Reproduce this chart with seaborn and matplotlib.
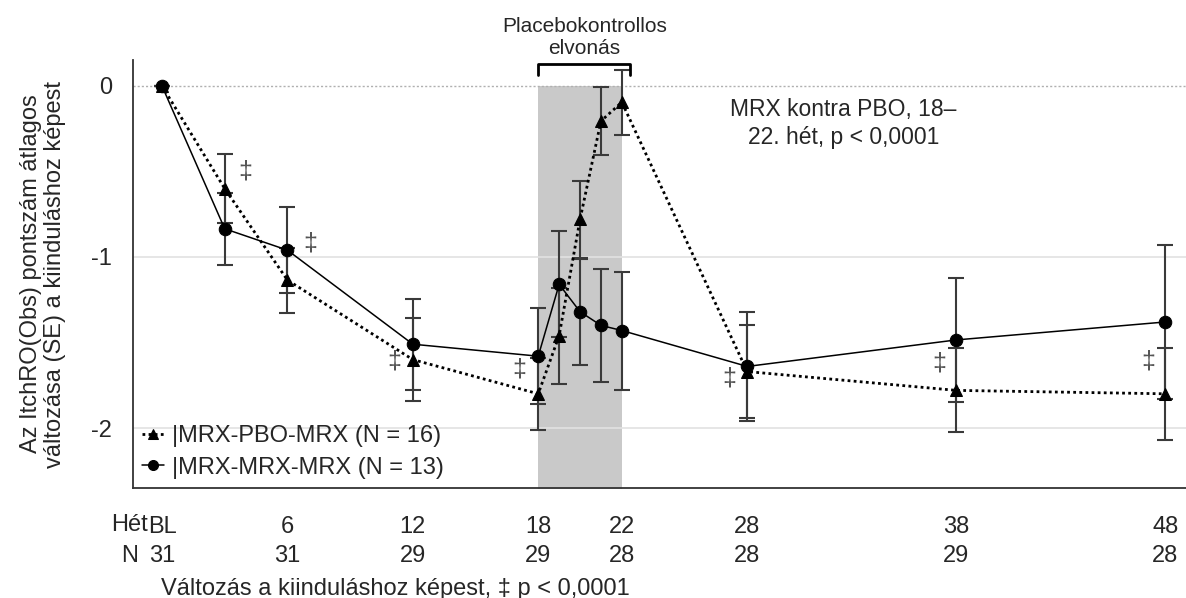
import numpy as np
import pandas as pd
import seaborn as sns
import matplotlib.pyplot as plt

# Hetek (BL = 0) es a ket csoport atlagai / SE ertekei
weeks = [0, 3, 6, 12, 18, 19, 20, 21, 22, 28, 38, 48]
pbo_mean = [0, -0.60, -1.135, -1.60, -1.80, -1.46, -0.78, -0.205, -0.095, -1.67, -1.78, -1.80]
pbo_se = [0, 0.20, 0.19, 0.245, 0.21, 0.28, 0.225, 0.20, 0.19, 0.27, 0.245, 0.27]
mrx_mean = [0, -0.835, -0.96, -1.51, -1.58, -1.16, -1.32, -1.40, -1.43, -1.64, -1.485, -1.38]
mrx_se = [0, 0.21, 0.25, 0.265, 0.28, 0.31, 0.31, 0.33, 0.345, 0.32, 0.365, 0.45]

tick_weeks = [0, 6, 12, 18, 22, 28, 38, 48]
tick_names = ["BL", "6", "12", "18", "22", "28", "38", "48"]
n_values = ["31", "31", "29", "29", "28", "28", "29", "28"]

# ‡ jelek helye
dagger_x = [4.0, 7.1, 11.1, 17.1, 27.15, 37.2, 47.2]
dagger_y = [-0.50, -0.92, -1.61, -1.66, -1.71, -1.62, -1.61]

df = pd.DataFrame({"week": weeks, "pbo": pbo_mean, "mrx": mrx_mean})

sns.set_theme(style="white")
plt.rcParams['font.family'] = ['Liberation Sans', 'DejaVu Sans']

fig = plt.figure(figsize=(11.86, 5.98), dpi=100)
ax = fig.add_axes([0.1121, 0.1839, 0.8879, 0.7158])

# Szurke sav 18-22. het
ax.fill_between([18, 22], -2.4, 0, color="#c9c9c9", lw=0, zorder=0)

# Racsvonalak
ax.axhline(0, color="#b0b0b0", lw=1, ls=(0, (1.5, 1.5)), zorder=1)
for yv in [-1, -2]:
    ax.axhline(yv, color="#e2e2e2", lw=1.2, zorder=1)

# Hibasavok
ax.errorbar(weeks, pbo_mean, yerr=pbo_se, fmt="none", ecolor="#3a3a3a",
            elinewidth=1.5, capsize=6, capthick=1.5, zorder=2)
ax.errorbar(weeks, mrx_mean, yerr=mrx_se, fmt="none", ecolor="#3a3a3a",
            elinewidth=1.5, capsize=6, capthick=1.5, zorder=2)

# Vonalak
sns.lineplot(data=df, x="week", y="pbo", marker="^", markersize=9, color="black",
             linestyle=(0, (1, 1.2)), lw=2, markeredgecolor="black", ax=ax, zorder=3,
             label="|MRX-PBO-MRX (N = 16)")
sns.lineplot(data=df, x="week", y="mrx", marker="o", markersize=9, color="black",
             lw=1.1, markeredgecolor="black", ax=ax, zorder=3,
             label="|MRX-MRX-MRX (N = 13)")

for dx, dy in zip(dagger_x, dagger_y):
    ax.text(dx, dy, "‡", fontsize=18, color="#555555", ha="center", va="center")

# Zarojel es feliratok
ax.plot([18, 18, 22.4, 22.4], [0.065, 0.13, 0.13, 0.065], color="black", lw=2,
        clip_on=False)
ax.text(20.2, 0.165, "Placebokontrollos\nelvonás", fontsize=15, ha="center",
        va="bottom", linespacing=1.2)
ax.text(32.6, -0.22, "MRX kontra PBO, 18–\n22. hét, p < 0,0001", fontsize=16.5,
        ha="center", va="center", linespacing=1.3)

ax.set_xlim(-1.39, 48.99)
ax.set_ylim(-2.351, 0.152)

ax.set_xticks(tick_weeks)
ax.set_xticklabels([f"{a}\n{b}" for a, b in zip(tick_names, n_values)],
                   fontsize=17, linespacing=1.45)
ax.set_yticks([0, -1, -2])
ax.set_yticklabels(["0", "-1", "-2"], fontsize=17)
ax.tick_params(axis="both", length=9, width=1.2, color="#333333", direction="out")
ax.tick_params(axis="x", pad=11)
ax.tick_params(axis="y", pad=6)

trans = ax.get_xaxis_transform()
ax.text(-0.67, -0.0864, "Hét", transform=trans, fontsize=17, ha="right", va="center")
ax.text(-1.15, -0.158, "N", transform=trans, fontsize=17, ha="right", va="center")
ax.text(11.17, -0.236, "Változás a kiinduláshoz képest, ‡ p < 0,0001", transform=trans,
        fontsize=17, ha="center", va="center")

ax.set_xlabel("")
ax.set_ylabel("Az ItchRO(Obs) pontszám átlagos\nváltozása (SE) a kiinduláshoz képest",
              fontsize=17, labelpad=18, linespacing=1.15)

sns.despine(ax=ax)
for s in ["left", "bottom"]:
    ax.spines[s].set_color("#333333")
    ax.spines[s].set_linewidth(1.3)

ax.legend(loc="lower left", bbox_to_anchor=(0.0, 0.0), frameon=False, fontsize=17,
          handlelength=0.9, handletextpad=0.35, labelspacing=0.4, borderaxespad=0.2,
          borderpad=0.2, markerscale=0.8)

fig.savefig("out.png", dpi=100)
